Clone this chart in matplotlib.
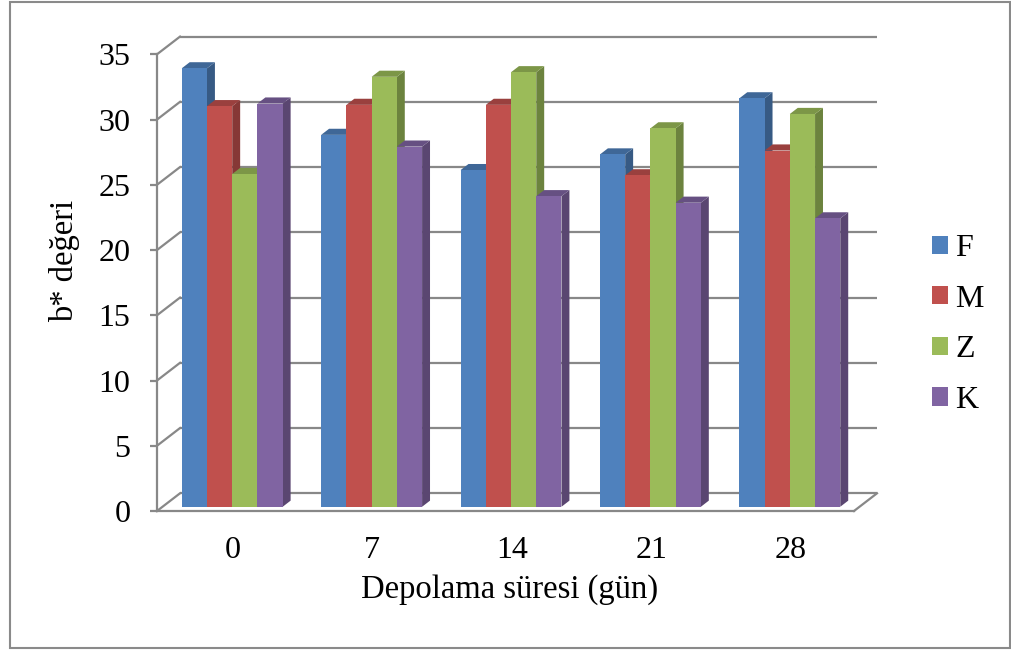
import matplotlib
matplotlib.use('Agg')
import matplotlib.pyplot as plt
import numpy as np
from matplotlib.patches import Polygon, Rectangle, Patch
import matplotlib.colors as mcolors

# ---------------- data ----------------
days = ['0', '7', '14', '21', '28']
series = ['F', 'M', 'Z', 'K']
F = [33.6, 28.5, 25.8, 27.0, 31.3]
M = [30.7, 30.8, 30.8, 25.4, 27.3]
Z = [25.5, 32.95, 33.3, 29.0, 30.1]
K = [30.9, 27.6, 23.8, 23.3, 22.1]
y_ticks = [0, 5, 10, 15, 20, 25, 30, 35]
x_title = 'Depolama süresi (gün)'
y_title = 'b* değeri'

colors = ['#4F81BD', '#C0504D', '#9BBB59', '#8064A2']

plt.rcParams['font.family'] = ['Liberation Serif', 'DejaVu Serif']

W, H = 1012, 650
fig = plt.figure(figsize=(W / 100, H / 100), dpi=100)

# front plane of the 3-D box in pixels
L, R, B, T = 157, 854, 511, 54.3
ax = fig.add_axes([L / W, 1 - B / H, (R - L) / W, (B - T) / H])
ax.set_xlim(0, 5)
ax.set_ylim(0, 35)
ax.patch.set_visible(False)

pxx = (R - L) / 5.0
pxy = (B - T) / 35.0
DX = 23 / pxx          # full depth offset (data units)
DY = 17.7 / pxy
tf, tb = 0.24, 0.585   # bar front / back depth fractions
ddx = (tb - tf) * DX
ddy = (tb - tf) * DY

grid_c = '#888888'
glw = 1.6

# back wall gridlines + left diagonals
for v in y_ticks:
    ax.plot([DX, 5 + DX], [v + DY, v + DY], color=grid_c, lw=glw, clip_on=False,
            zorder=1, solid_capstyle='butt')
    ax.plot([0, DX], [v, v + DY], color=grid_c, lw=glw, clip_on=False, zorder=1)
# floor right edge
ax.plot([5, 5 + DX], [0, DY], color=grid_c, lw=glw, clip_on=False, zorder=1)

for s in ['top', 'right']:
    ax.spines[s].set_visible(False)
for s in ['left', 'bottom']:
    ax.spines[s].set_color(grid_c)
    ax.spines[s].set_linewidth(glw)
    ax.spines[s].set_zorder(0.5)


def shade(c, f):
    r, g, b = mcolors.to_rgb(c)
    return (r * f, g * f, b * f)


w = 0.181
data = [F, M, Z, K]
bottom = tf * DY
for j, vals in enumerate(data):
    xs = np.arange(5) + 0.5 - 2 * w + j * w + tf * DX
    bars = ax.bar(xs, vals, width=w, bottom=bottom, align='edge',
                  color=colors[j], zorder=3 + 2 * j, linewidth=0)
    for rect in bars:
        x0 = rect.get_x()
        b0 = rect.get_y()
        t0 = b0 + rect.get_height()
        side = Polygon([(x0 + w, b0), (x0 + w + ddx, b0 + ddy),
                        (x0 + w + ddx, t0 + ddy), (x0 + w, t0)],
                       closed=True, facecolor=shade(colors[j], 0.70),
                       edgecolor='none', zorder=2 + 2 * j, clip_on=False)
        top = Polygon([(x0, t0), (x0 + w, t0), (x0 + w + ddx, t0 + ddy),
                       (x0 + ddx, t0 + ddy)],
                      closed=True, facecolor=shade(colors[j], 0.80),
                      edgecolor='none', zorder=2 + 2 * j, clip_on=False)
        ax.add_patch(side)
        ax.add_patch(top)

ax.set_yticks(y_ticks)
ax.set_yticklabels([str(v) for v in y_ticks])
ax.tick_params(axis='y', length=5, width=glw, color=grid_c, pad=14,
               labelsize=23, labelcolor='black')
ax.set_xticks(np.arange(5) + 0.5 + 0.045)
ax.set_xticklabels(days)
ax.tick_params(axis='x', length=0, pad=18, labelsize=23, labelcolor='black')

fig.text(510 / W, 1 - 598 / H, x_title, ha='center', va='baseline', fontsize=23.5)
fig.text(65 / W, 1 - 261 / H, y_title, ha='center', va='center', rotation=90,
         fontsize=23.5)

handles = [Patch(facecolor=c, edgecolor='none') for c in colors]
fig.legend(handles, series, loc='center left',
           bbox_to_anchor=(932 / W, 1 - 324.5 / H), frameon=False, fontsize=23,
           handlelength=0.5, handleheight=0.5, handletextpad=0.22,
           labelspacing=0.675, borderpad=0, borderaxespad=0)

fig.add_artist(Rectangle((10 / W, 2 / H), 1000 / W, 646 / H,
                         transform=fig.transFigure, fill=False,
                         edgecolor='#8A8A8A', lw=1.5))

fig.savefig('out.png', dpi=100)
